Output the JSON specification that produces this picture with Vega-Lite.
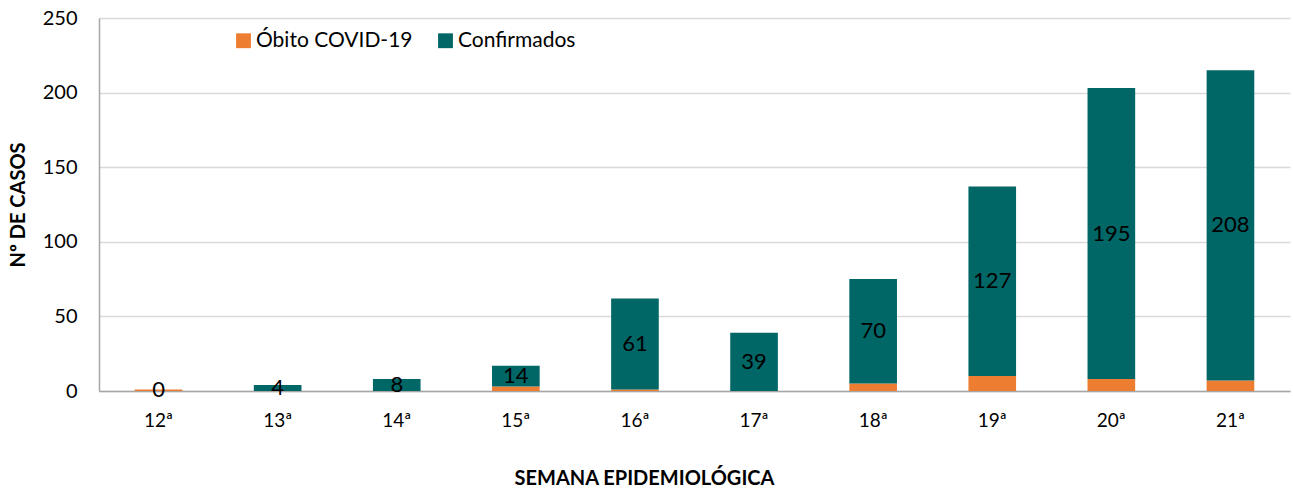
{
  "$schema": "https://vega.github.io/schema/vega-lite/v6.json",
  "width": 1191,
  "height": 373,
  "autosize": {"type": "none"},
  "padding": {"left": 99, "top": 18, "right": 3, "bottom": 99},
  "background": "white",
  "config": {
    "font": "Lato",
    "view": {"stroke": null},
    "axis": {"labelFont": "Lato", "titleFont": "Lato"}
  },
  "data": {
    "values": [
      {"semana": "12ª", "tipo": "Óbito COVID-19", "ordem": 1, "casos": 1},
      {"semana": "12ª", "tipo": "Confirmados", "ordem": 2, "casos": 0},
      {"semana": "13ª", "tipo": "Óbito COVID-19", "ordem": 1, "casos": 0},
      {"semana": "13ª", "tipo": "Confirmados", "ordem": 2, "casos": 4},
      {"semana": "14ª", "tipo": "Óbito COVID-19", "ordem": 1, "casos": 0},
      {"semana": "14ª", "tipo": "Confirmados", "ordem": 2, "casos": 8},
      {"semana": "15ª", "tipo": "Óbito COVID-19", "ordem": 1, "casos": 3},
      {"semana": "15ª", "tipo": "Confirmados", "ordem": 2, "casos": 14},
      {"semana": "16ª", "tipo": "Óbito COVID-19", "ordem": 1, "casos": 1},
      {"semana": "16ª", "tipo": "Confirmados", "ordem": 2, "casos": 61},
      {"semana": "17ª", "tipo": "Óbito COVID-19", "ordem": 1, "casos": 0},
      {"semana": "17ª", "tipo": "Confirmados", "ordem": 2, "casos": 39},
      {"semana": "18ª", "tipo": "Óbito COVID-19", "ordem": 1, "casos": 5},
      {"semana": "18ª", "tipo": "Confirmados", "ordem": 2, "casos": 70},
      {"semana": "19ª", "tipo": "Óbito COVID-19", "ordem": 1, "casos": 10},
      {"semana": "19ª", "tipo": "Confirmados", "ordem": 2, "casos": 127},
      {"semana": "20ª", "tipo": "Óbito COVID-19", "ordem": 1, "casos": 8},
      {"semana": "20ª", "tipo": "Confirmados", "ordem": 2, "casos": 195},
      {"semana": "21ª", "tipo": "Óbito COVID-19", "ordem": 1, "casos": 7},
      {"semana": "21ª", "tipo": "Confirmados", "ordem": 2, "casos": 208}
    ]
  },
  "encoding": {
    "x": {
      "field": "semana",
      "type": "nominal",
      "sort": null,
      "scale": {"paddingInner": 0.6, "paddingOuter": 0.3},
      "axis": {
        "title": "SEMANA EPIDEMIOLÓGICA",
        "titleFontSize": 20,
        "titleFontWeight": "bold",
        "titleColor": "black",
        "titlePadding": 38,
        "titleX": 545,
        "labelAngle": 0,
        "labelFontSize": 19,
        "labelColor": "black",
        "labelPadding": 20,
        "ticks": false,
        "domainColor": "#a6a6a6",
        "domainWidth": 1.5
      }
    }
  },
  "layer": [
    {
      "mark": {"type": "bar"},
      "encoding": {
        "y": {
          "field": "casos",
          "type": "quantitative",
          "stack": "zero",
          "scale": {"domain": [0, 250], "nice": false},
          "axis": {
            "title": "Nº DE CASOS",
            "titleFontSize": 20,
            "titleFontWeight": "bold",
            "titleColor": "black",
            "titlePadding": 14,
            "values": [0, 50, 100, 150, 200, 250],
            "labelFontSize": 20,
            "labelColor": "black",
            "labelPadding": 22,
            "ticks": false,
            "domainColor": "#a6a6a6",
            "domainWidth": 1.5,
            "gridColor": "#d9d9d9",
            "gridWidth": 1.5
          }
        },
        "color": {
          "field": "tipo",
          "type": "nominal",
          "scale": {
            "domain": ["Óbito COVID-19", "Confirmados"],
            "range": ["#ed7d31", "#006666"]
          },
          "legend": {
            "title": null,
            "orient": "none",
            "legendX": 134,
            "legendY": 12,
            "direction": "horizontal",
            "symbolType": "square",
            "symbolSize": 220,
            "symbolStrokeWidth": 0,
            "symbolOpacity": 1,
            "labelFontSize": 21,
            "labelColor": "black",
            "labelOffset": 2,
            "columnPadding": 22
          }
        },
        "order": {"field": "ordem", "type": "quantitative"}
      }
    },
    {
      "mark": {"type": "text", "fontSize": 22, "color": "black", "baseline": "middle", "align": "center"},
      "encoding": {
        "y": {
          "field": "casos",
          "type": "quantitative",
          "stack": "zero",
          "bandPosition": 0.5
        },
        "detail": {"field": "tipo"},
        "order": {"field": "ordem", "type": "quantitative"},
        "text": {"field": "casos", "type": "quantitative"},
        "opacity": {
          "condition": {"test": "datum.tipo === 'Óbito COVID-19'", "value": 0},
          "value": 1
        }
      }
    }
  ]
}
